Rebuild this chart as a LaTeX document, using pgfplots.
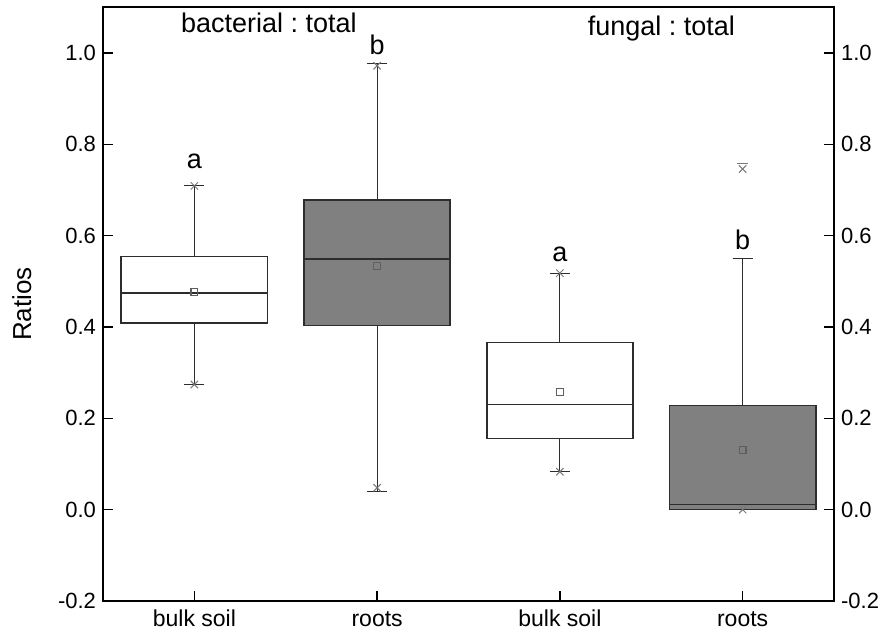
\documentclass[border=0pt]{standalone}
\usepackage{fontspec}
\setmainfont{Liberation Sans}
\usepackage{pgfplots}
\pgfplotsset{compat=1.18}
\usepgfplotslibrary{statistics}

\definecolor{boxgray}{RGB}{128,128,128}
\definecolor{edge}{RGB}{45,45,45}
\definecolor{markgray}{RGB}{95,95,95}
\definecolor{xgray}{RGB}{120,120,120}

\begin{document}
\frenchspacing
\begin{tikzpicture}
\pgfplotsset{
  frame/.style={
    scale only axis, width=365.5pt, height=296.85pt,
    xmin=0.5, xmax=4.5, ymin=-0.2, ymax=1.1,
    ytick={-0.2,0,0.2,0.4,0.6,0.8,1.0},
    yticklabel style={/pgf/number format/fixed,/pgf/number format/fixed zerofill,
      /pgf/number format/precision=1, font=\fontsize{11}{13}\selectfont},
    /pgf/number format/assume math mode=true,
    tick align=inside, major tick length=5pt,
    tick style={line width=0.8pt, black},
    axis line style={line width=1pt},
  }
}
\begin{axis}[frame, at={(0,0)}, anchor=south west,
  xtick={1,2,3,4},
  xticklabels={bulk soil, roots, bulk soil, roots},
  xticklabel style={font=\fontsize{11.5}{13}\selectfont, text height=1.6ex, text depth=0.3ex, yshift=-1pt},
  xtick pos=bottom, ytick pos=both, yticklabel pos=left,
  ylabel={Ratios},
  ylabel style={font=\fontsize{13}{15}\selectfont, at={(axis description cs:-0.111,0.5)}, anchor=center, rotate=0},
  boxplot/draw direction=y,
  boxplot/box extend=0.8,
  boxplot/whisker extend=0.11,
  clip=false,
]
% bacterial : total, bulk soil
\addplot+[boxplot prepared={draw position=1, lower whisker=0.274, lower quartile=0.409,
    median=0.475, upper quartile=0.554, upper whisker=0.709},
  draw=edge, line width=0.8pt, fill=white, mark=none,
  boxplot/every whisker/.style={line width=0.5pt}] coordinates {};
% bacterial : total, roots
\addplot+[boxplot prepared={draw position=2, lower whisker=0.039, lower quartile=0.403,
    median=0.549, upper quartile=0.678, upper whisker=0.976},
  draw=edge, line width=0.8pt, fill=boxgray, mark=none,
  boxplot/every whisker/.style={line width=0.5pt}] coordinates {};
% fungal : total, bulk soil
\addplot+[boxplot prepared={draw position=3, lower whisker=0.083, lower quartile=0.156,
    median=0.230, upper quartile=0.366, upper whisker=0.518},
  draw=edge, line width=0.8pt, fill=white, mark=none,
  boxplot/every whisker/.style={line width=0.5pt}] coordinates {};
% fungal : total, roots
\addplot+[boxplot prepared={draw position=4, lower whisker=0.0, lower quartile=0.0,
    median=0.011, upper quartile=0.228, upper whisker=0.551},
  draw=edge, line width=0.8pt, fill=boxgray, mark=none,
  boxplot/every whisker/.style={line width=0.5pt}] coordinates {};

% means
\addplot[only marks, mark=square, mark size=1.7pt, draw=markgray, line width=0.6pt]
  coordinates {(1,0.477) (2,0.534) (3,0.258) (4,0.131)};
% 1st and 99th percentiles
\addplot[only marks, mark=x, mark size=2.6pt, draw=xgray, line width=0.5pt]
  coordinates {(1,0.709) (1,0.274) (2,0.972) (2,0.048) (3,0.518) (3,0.083) (4,0.746) (4,0.0)};
% maximum beyond the whisker
\addplot[only marks, mark=-, mark size=2.6pt, draw=xgray, line width=0.5pt]
  coordinates {(4,0.759)};

% significance letters
\node[anchor=base, font=\fontsize{13.5}{15}\selectfont] at (axis cs:1,0.746) {a};
\node[anchor=base, font=\fontsize{13.5}{15}\selectfont] at (axis cs:2,0.996) {b};
\node[anchor=base, font=\fontsize{13.5}{15}\selectfont] at (axis cs:3,0.543) {a};
\node[anchor=base, font=\fontsize{13.5}{15}\selectfont] at (axis cs:4,0.569) {b};
% panel titles
\node[anchor=base, font=\fontsize{13.5}{15}\selectfont] at (axis cs:1.408,1.044) {bacterial : total};
\node[anchor=base, font=\fontsize{13.5}{15}\selectfont] at (axis cs:3.555,1.039) {fungal : total};
\end{axis}

% right-hand tick labels
\begin{axis}[frame, at={(0,0)}, anchor=south west,
  hide x axis, axis y line*=right, ytick pos=right, yticklabel pos=right,
  ytick style={draw=none}, axis line style={draw=none},
]
\addplot[draw=none] coordinates {(1,0)};
\end{axis}

\pgfresetboundingbox
\useasboundingbox (-51.5pt,-18pt) rectangle (391.5pt,300.5pt);
\end{tikzpicture}
\end{document}
